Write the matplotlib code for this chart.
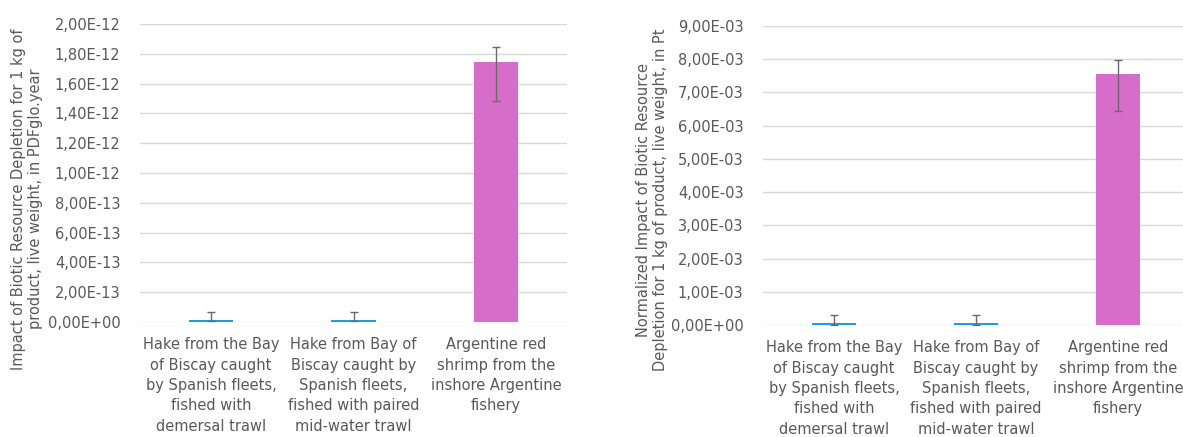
import matplotlib
matplotlib.use("Agg")
import matplotlib.pyplot as plt
import numpy as np
from matplotlib.ticker import FuncFormatter, MultipleLocator

plt.rcParams["font.family"] = ["DejaVu Sans"]

categories = [
    "Hake from the Bay\nof Biscay caught\nby Spanish fleets,\nfished with\ndemersal trawl",
    "Hake from Bay of\nBiscay caught by\nSpanish fleets,\nfished with paired\nmid-water trawl",
    "Argentine red\nshrimp from the\ninshore Argentine\nfishery",
]
bar_colors = ["#1E9FDB", "#1E9FDB", "#D66DC8"]

# impact in PDFglo.year per kg
impact = [1.5e-14, 1.5e-14, 1.748e-12]
impact_err_lo = [1.0e-14, 1.0e-14, 0.265e-12]
impact_err_hi = [5.2e-14, 5.2e-14, 0.095e-12]

# normalized impact in Pt per kg
norm_impact = [6.0e-5, 6.0e-5, 7.565e-3]
norm_err_lo = [4.5e-5, 4.5e-5, 1.115e-3]
norm_err_hi = [2.4e-4, 2.4e-4, 0.422e-3]

left_ylabel = "Impact of Biotic Resource Depletion for 1 kg of\nproduct, live weight, in PDFglo.year"
right_ylabel = "Normalized Impact of Biotic Resource\nDepletion for 1 kg of product, live weight, in Pt"

TEXT = "#595959"
GRID = "#D9D9D9"
W, H = 1183, 437


def sci_comma(v, pos):
    return f"{v:.2E}".replace(".", ",")


def draw_panel(rect, vals, lo, hi, ymax, step):
    ax = fig.add_axes(rect)
    x = np.arange(len(categories))
    ax.bar(x, vals, width=0.31, color=bar_colors, zorder=3)
    ax.errorbar(x, vals, yerr=[lo, hi], fmt="none", ecolor="#6A6A6A",
                elinewidth=1.0, capsize=3, capthick=1.0, zorder=4)
    ax.set_xlim(-0.5, len(categories) - 0.5)
    ax.set_ylim(0, ymax)
    ax.yaxis.set_major_locator(MultipleLocator(step))
    ax.yaxis.set_major_formatter(FuncFormatter(sci_comma))
    ax.grid(axis="y", color=GRID, lw=1.0, zorder=0)
    ax.set_axisbelow(True)
    for s in ax.spines.values():
        s.set_visible(False)
    ax.set_xticks(x)
    ax.set_xticklabels(categories, fontsize=10.5, color=TEXT, linespacing=1.45,
                       multialignment="center", va="top")
    ax.tick_params(axis="x", length=0, pad=11)
    ax.tick_params(axis="y", length=0, pad=14, labelsize=10.5, labelcolor=TEXT)
    return ax


fig = plt.figure(figsize=(W / 100, H / 100), dpi=100)

draw_panel([140 / W, 1 - 322 / H, 427 / W, 298 / H],
           impact, impact_err_lo, impact_err_hi, 2.0e-12, 0.2e-12)
draw_panel([763 / W, 1 - 325 / H, 426 / W, 299 / H],
           norm_impact, norm_err_lo, norm_err_hi, 9.0e-3, 1.0e-3)

fig.text(27 / W, 1 - 199 / H, left_ylabel, rotation=90, ha="center", va="center",
         multialignment="center", fontsize=10.5, color=TEXT, linespacing=1.2)
fig.text(652 / W, 1 - 200 / H, right_ylabel, rotation=90, ha="center", va="center",
         multialignment="center", fontsize=10.5, color=TEXT, linespacing=1.2)

fig.savefig("out.png", dpi=100, facecolor="white")
